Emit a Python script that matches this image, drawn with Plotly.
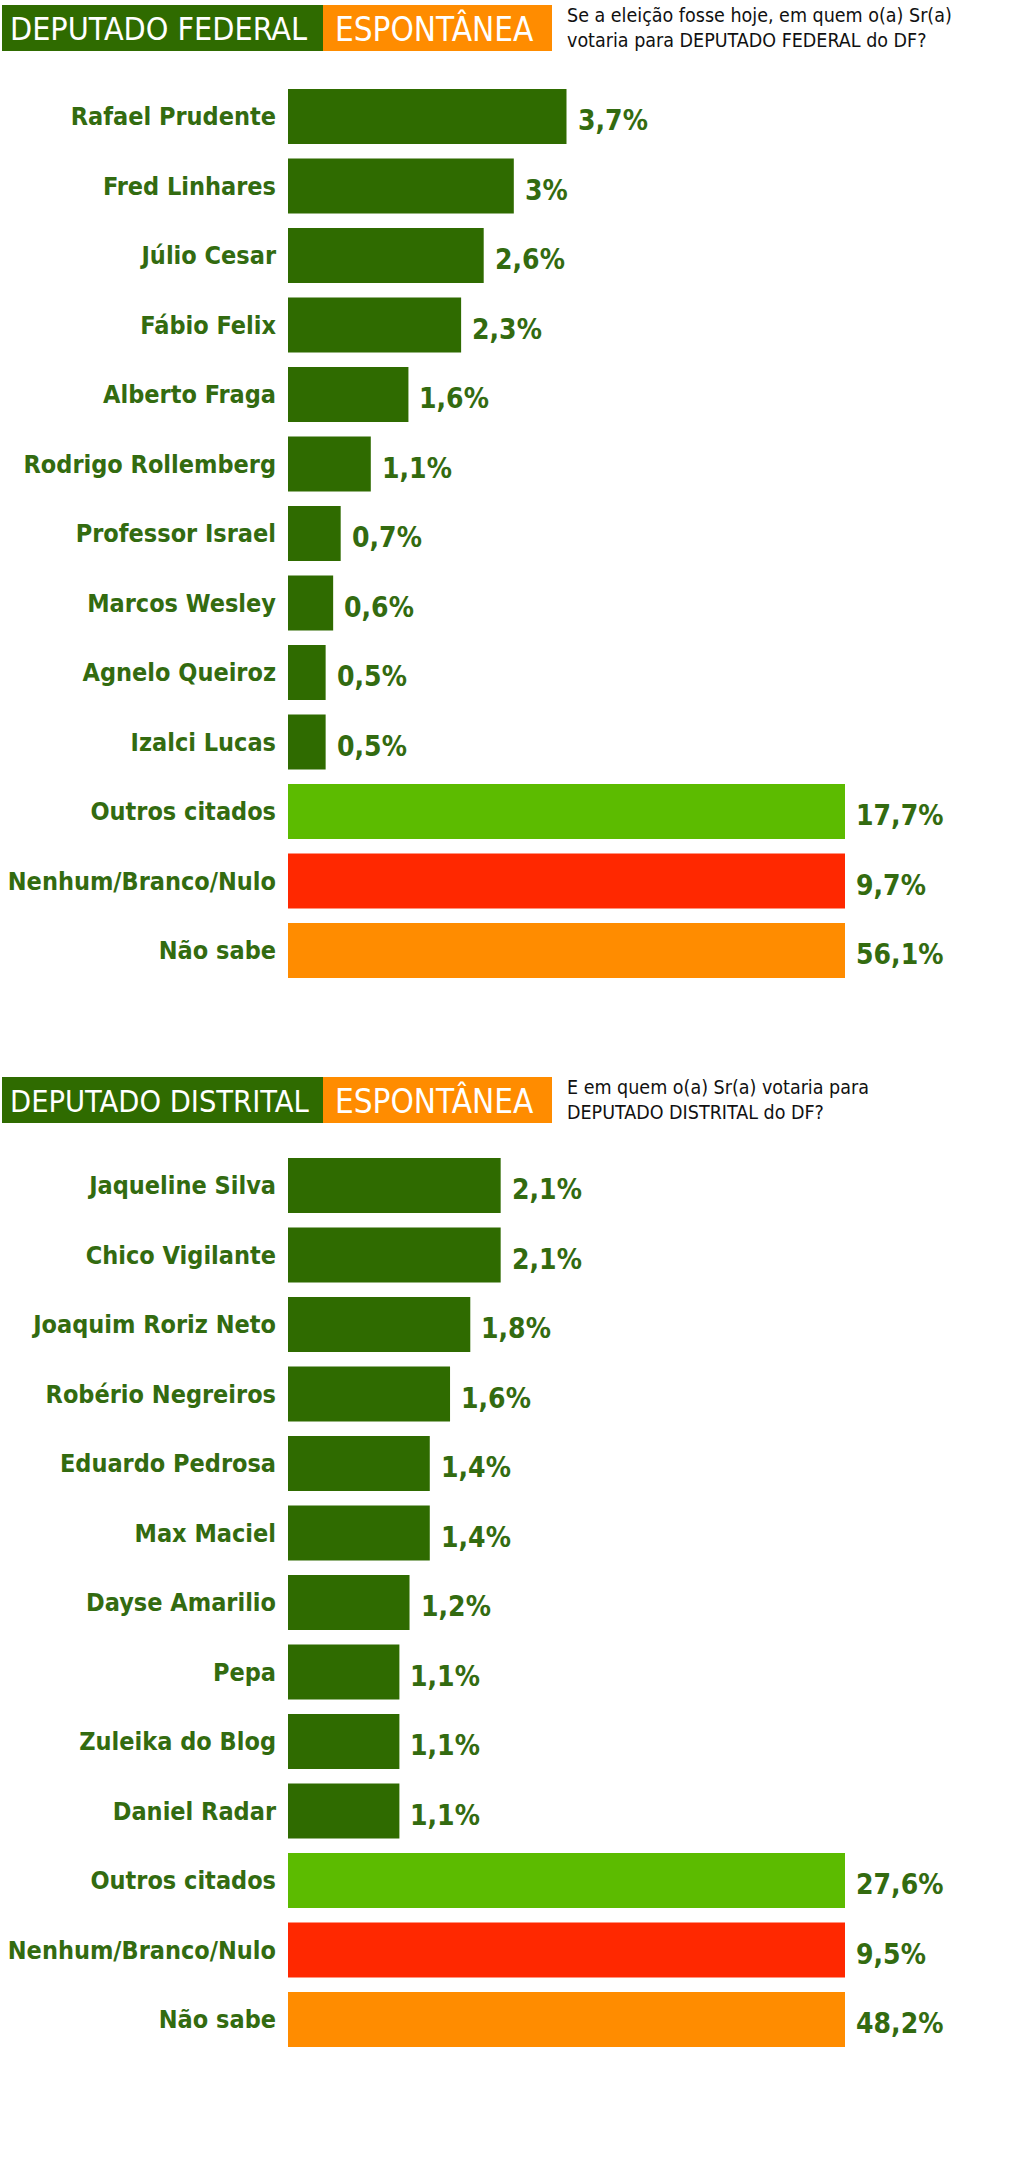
import plotly.graph_objects as go

# pesquisa espontanea - deputado federal / distrital (DF)
federal_nomes = ["Rafael Prudente", "Fred Linhares", "Júlio Cesar", "Fábio Felix", "Alberto Fraga",
                 "Rodrigo Rollemberg", "Professor Israel", "Marcos Wesley", "Agnelo Queiroz", "Izalci Lucas",
                 "Outros citados", "Nenhum/Branco/Nulo", "Não sabe"]
federal_valores = [3.7, 3.0, 2.6, 2.3, 1.6, 1.1, 0.7, 0.6, 0.5, 0.5, 17.7, 9.7, 56.1]

distrital_nomes = ["Jaqueline Silva", "Chico Vigilante", "Joaquim Roriz Neto", "Robério Negreiros",
                   "Eduardo Pedrosa", "Max Maciel", "Dayse Amarilio", "Pepa", "Zuleika do Blog", "Daniel Radar",
                   "Outros citados", "Nenhum/Branco/Nulo", "Não sabe"]
distrital_valores = [2.1, 2.1, 1.8, 1.6, 1.4, 1.4, 1.2, 1.1, 1.1, 1.1, 27.6, 9.5, 48.2]

# os tres ultimos aparecem cortados no mesmo tamanho
federal_max = 7.4
distrital_max = 5.5

VERDE = "#2f6b00"
cores = [VERDE] * 10 + ["#5cbb00", "#ff2800", "#ff8c00"]
COR_TEXTO = "#336b10"
COND = "DejaVu Sans Condensed, sans-serif"

W, H = 1012, 2160


def rotulo(v):
    return f"{v:g}".replace(".", ",") + "%"


fig = go.Figure()
fig.add_trace(go.Bar(x=federal_valores, y=federal_nomes, orientation="h",
                     marker=dict(color=cores, line=dict(width=0)),
                     xaxis="x", yaxis="y", hoverinfo="skip"))
fig.add_trace(go.Bar(x=distrital_valores, y=distrital_nomes, orientation="h",
                     marker=dict(color=cores, line=dict(width=0)),
                     xaxis="x2", yaxis="y2", hoverinfo="skip"))

anots = []
for nomes, valores, lim, ax in [(federal_nomes, federal_valores, federal_max, ""),
                                (distrital_nomes, distrital_valores, distrital_max, "2")]:
    for n, v in zip(nomes, valores):
        anots.append(dict(x=min(v, lim), y=n, xref="x" + ax, yref="y" + ax, text=rotulo(v),
                          showarrow=False, xanchor="left", yanchor="middle", xshift=9, yshift=-4,
                          font=dict(family=COND, size=28, color=COR_TEXTO, weight="bold")))

# cabecalhos
shapes = []
for topo, titulo, tam, pergunta in [(5, "DEPUTADO FEDERAL", 32,
                                     "Se a eleição fosse hoje, em quem o(a) Sr(a)<br>votaria para DEPUTADO FEDERAL do DF?"),
                                    (1077, "DEPUTADO DISTRITAL", 30.5,
                                     "E em quem o(a) Sr(a) votaria para<br>DEPUTADO DISTRITAL do DF?")]:
    base = topo + 46
    shapes.append(dict(type="rect", xref="paper", yref="paper", x0=2 / W, x1=323 / W,
                       y0=1 - base / H, y1=1 - topo / H, fillcolor=VERDE, line=dict(width=0)))
    shapes.append(dict(type="rect", xref="paper", yref="paper", x0=323 / W, x1=552 / W,
                       y0=1 - base / H, y1=1 - topo / H, fillcolor="#ff8c00", line=dict(width=0)))
    meio = 1 - (topo + 24) / H
    anots.append(dict(x=8 / W, y=meio, xref="paper", yref="paper", text=titulo, showarrow=False,
                      xanchor="left", yanchor="middle", font=dict(family=COND, size=tam, color="white")))
    anots.append(dict(x=333 / W, y=meio, xref="paper", yref="paper", text="ESPONTÂNEA", showarrow=False,
                      xanchor="left", yanchor="middle", font=dict(family=COND, size=33, color="white")))
    anots.append(dict(x=565 / W, y=1 - (topo - 3) / H, xref="paper", yref="paper", text=pergunta,
                      showarrow=False, xanchor="left", yanchor="top", align="left",
                      font=dict(family=COND, size=19.5, color="#111111")))

eixo_y = dict(type="category", autorange="reversed", showgrid=False, zeroline=False, showline=False,
              ticks="", ticklabelstandoff=11, automargin=False,
              tickfont=dict(family=COND, size=25, color=COR_TEXTO, weight="bold"))
eixo_x = dict(showgrid=False, zeroline=False, showline=False, showticklabels=False, ticks="",
              automargin=False)

fig.update_layout(
    width=W, height=H,
    margin=dict(l=0, r=0, t=0, b=0),
    paper_bgcolor="white", plot_bgcolor="white",
    showlegend=False, bargap=0.21,
    xaxis=dict(eixo_x, domain=[288 / W, 845 / W], range=[0, federal_max], anchor="y"),
    yaxis=dict(eixo_y, domain=[1 - 985.25 / H, 1 - 81.75 / H], anchor="x"),
    xaxis2=dict(eixo_x, domain=[288 / W, 845 / W], range=[0, distrital_max], anchor="y2"),
    yaxis2=dict(eixo_y, domain=[1 - 2054.25 / H, 1 - 1150.75 / H], anchor="x2"),
    shapes=shapes,
    annotations=anots,
)

# tira a margem padrao do body para o grafico ficar colado no canto
fig.write_html("out.html", config={"displayModeBar": False},
               post_script="document.body.style.margin='0px';")
